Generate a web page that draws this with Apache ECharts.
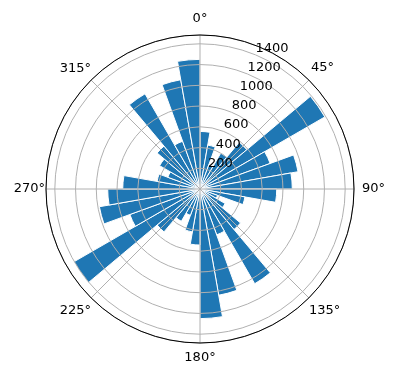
<!DOCTYPE html>
<html>
<head>
<meta charset="utf-8">
<script src="https://cdn.jsdelivr.net/npm/echarts@6/dist/echarts.min.js"></script>
<style>
  html, body { margin: 0; padding: 0; background: #fff; }
  #chart { width: 396px; height: 380px; }
</style>
</head>
<body>
<div id="chart"></div>
<script>
// bin start angles (degrees, clockwise from north), 10 deg wide
var bins = [0, 10, 20, 30, 40, 50, 60, 70, 80, 90, 100, 110,
            120, 130, 140, 150, 160, 170, 180, 190, 200, 210, 220, 230,
            240, 250, 260, 270, 280, 290, 300, 310, 320, 330, 340, 350];
var counts = [555, 430, 250, 400, 590, 1390, 720, 960, 890, 740, 440, 180,
              280, 510, 1055, 470, 1040, 1250, 540, 420, 270, 360, 540, 1405,
              720, 985, 890, 745, 420, 330, 450, 540, 1060, 490, 1070, 1250];
var angleTicks = [0, 45, 90, 135, 180, 225, 270, 315];
var radiusTicks = [200, 400, 600, 800, 1000, 1200, 1400];
var rMax = 1485;

var chart = echarts.init(document.getElementById('chart'));
var center = [200, 189];
var radius = 154;
var font = 'DejaVu Sans';

// push each angle label away from the circle a bit, like matplotlib does
var pads = {
  a0: [0, 0, 10, 0], a45: [0, 0, 6, 2], a90: [0, 0, 0, 8], a135: [6, 0, 0, 0],
  a180: [8, 0, 0, 0], a225: [6, 0, 0, 0], a270: [0, 1, 0, 0], a315: [0, 0, 5, 0]
};
var rich = {};
Object.keys(pads).forEach(function (k) {
  rich[k] = { padding: pads[k], color: '#000', fontSize: 13, fontFamily: font };
});

var option = {
  animation: false,
  polar: [
    { center: center, radius: radius },
    { center: center, radius: radius },
    { center: center, radius: radius }
  ],
  angleAxis: [
    {
      polarIndex: 0, type: 'category', data: bins,
      startAngle: 90, clockwise: true, boundaryGap: true,
      axisLine: { show: false }, axisTick: { show: false },
      axisLabel: { show: false }, splitLine: { show: false }
    },
    {
      polarIndex: 1, type: 'value', min: 0, max: 360, interval: 45,
      startAngle: 90, clockwise: true, z: 6,
      axisLine: { lineStyle: { color: '#000', width: 1 } },
      axisTick: { show: false },
      axisLabel: {
        margin: 0, color: '#000', fontSize: 13, fontFamily: font,
        rich: rich,
        formatter: function (v) {
          return angleTicks.indexOf(v) >= 0 ? '{a' + v + '|' + v + '°}' : '';
        }
      },
      splitLine: { lineStyle: { color: '#b0b0b0', width: 1 } }
    },
    {
      polarIndex: 2, type: 'value', min: 0, max: 360,
      startAngle: 67.5, clockwise: true, show: false
    }
  ],
  radiusAxis: [
    { polarIndex: 0, type: 'value', min: 0, max: rMax, show: false },
    {
      polarIndex: 1, type: 'value', min: 0, max: rMax, interval: 200, z: 5,
      axisLine: { show: false }, axisTick: { show: false },
      axisLabel: { show: false },
      splitLine: { lineStyle: { color: '#b0b0b0', width: 1 } }
    },
    {
      polarIndex: 2, type: 'value', min: 0, max: rMax, interval: 200, z: 7,
      axisLine: { show: false }, axisTick: { show: false },
      splitLine: { show: false },
      axisLabel: {
        margin: 0, align: 'left', verticalAlign: 'bottom',
        color: '#000', fontSize: 13, fontFamily: font,
        formatter: function (v) { return radiusTicks.indexOf(v) >= 0 ? String(v) : ''; }
      }
    }
  ],
  series: [{
    type: 'bar',
    coordinateSystem: 'polar',
    polarIndex: 0,
    data: counts,
    barCategoryGap: '0%',
    itemStyle: { color: '#1f77b4', borderColor: '#fff', borderWidth: 1 }
  }]
};

chart.setOption(option);
</script>
</body>
</html>
